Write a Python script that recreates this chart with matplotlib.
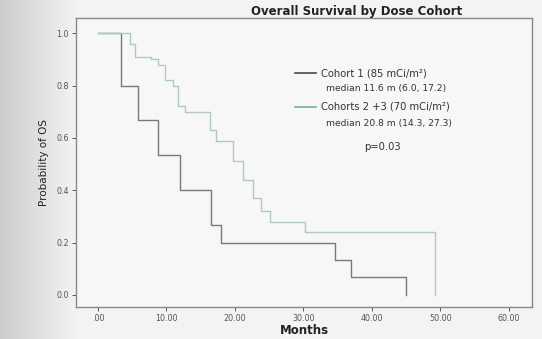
import numpy as np
import matplotlib.pyplot as plt

# Kaplan-Meier steps (months, survival after the drop)
c1_times = [0, 3.4, 5.8, 8.8, 12.0, 16.5, 18.0, 34.6, 36.9, 45.0]
c1_surv = [1.0, 0.80, 0.667, 0.533, 0.40, 0.267, 0.20, 0.133, 0.067, 0.0]

c2_times = [0, 4.7, 5.4, 7.7, 8.8, 9.8, 10.9, 11.7, 12.7, 16.4, 17.2,
            19.7, 21.2, 22.6, 23.8, 25.1, 30.2, 49.2]
c2_surv = [1.0, 0.96, 0.91, 0.90, 0.88, 0.82, 0.80, 0.72, 0.70, 0.63, 0.59,
           0.51, 0.44, 0.37, 0.32, 0.28, 0.24, 0.0]

x_ticks = [0, 10, 20, 30, 40, 50, 60]
x_labels = [".00", "10.00", "20.00", "30.00", "40.00", "50.00", "60.00"]
y_ticks = [0.0, 0.2, 0.4, 0.6, 0.8, 1.0]
y_labels = ["0.0", "0.2", "0.4", "0.6", "0.8", "1.0"]

fig = plt.figure(figsize=(5.42, 3.39), dpi=100, facecolor="#f2f2f1")

# greyish scan shading on the left edge
bg = fig.add_axes([0, 0, 1, 1], zorder=-1)
grad = np.clip(np.linspace(0, 1, 542) / 0.14, 0, 1)
bg.imshow(np.tile(0.80 + 0.15 * grad, (10, 1)), cmap="gray", vmin=0, vmax=1,
          aspect="auto", extent=[0, 1, 0, 1])
bg.axis("off")

ax = fig.add_axes([76 / 542, 1 - 307 / 339, (532 - 76) / 542, (307 - 18) / 339])
ax.set_facecolor("#f7f7f5")

ax.step(c1_times, c1_surv, where="post", color="#747a82", lw=1.0)
ax.step(c2_times, c2_surv, where="post", color="#aecbbf", lw=1.0)

ax.set_xlim(-3.2, 63.4)
ax.set_ylim(-0.046, 1.058)
ax.set_xticks(x_ticks)
ax.set_xticklabels(x_labels)
ax.set_yticks(y_ticks)
ax.set_yticklabels(y_labels)
ax.tick_params(labelsize=5.8, colors="#555555", length=3, width=0.7, pad=2)
for s in ax.spines.values():
    s.set_color("#888888")
    s.set_linewidth(1.0)

ax.set_xlabel("Months", fontsize=8.5, fontweight="bold", labelpad=1, color="#222222")
ax.set_ylabel("Probability of OS", fontsize=7.5, color="#222222", labelpad=5)

fig.text(357 / 542, 1 - 12 / 339, "Overall Survival by Dose Cohort",
         fontsize=8.5, fontweight="bold", ha="center", va="center", color="#222222")

# legend drawn by hand like the SPSS annotation box
ax.plot([28.8, 31.8], [0.846, 0.846], color="#3f4a60", lw=1.2)
ax.plot([28.8, 31.8], [0.719, 0.719], color="#6fb59a", lw=1.2)
ax.text(32.6, 0.846, "Cohort 1 (85 mCi/m\u00b2)", fontsize=7.2, va="center", color="#333333")
ax.text(33.3, 0.788, "median 11.6 m (6.0, 17.2)", fontsize=6.6, va="center", color="#333333")
ax.text(32.6, 0.719, "Cohorts 2 +3 (70 mCi/m\u00b2)", fontsize=7.2, va="center", color="#333333")
ax.text(33.3, 0.654, "median 20.8 m (14.3, 27.3)", fontsize=6.6, va="center", color="#333333")
ax.text(41.6, 0.565, "p=0.03", fontsize=7.2, va="center", ha="center", color="#333333")

fig.savefig("out.png", dpi=100, facecolor=fig.get_facecolor())
